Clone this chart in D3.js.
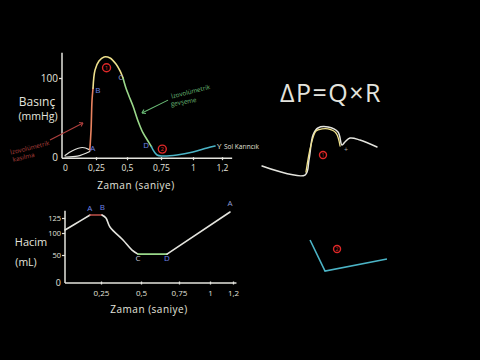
<!DOCTYPE html>
<html><head><meta charset="utf-8">
<script src="https://cdn.jsdelivr.net/npm/d3@7"></script>
<style>
html,body{margin:0;padding:0;background:#000;}
svg{display:block;}
text{font-family:"Open Sans","Noto Sans",sans-serif;}
</style></head>
<body>
<script>
// ---------- DATA ----------
const timeTicks = [0, 0.25, 0.5, 0.75, 1, 1.2];
const timeTickLabels = ["0", "0,25", "0,5", "0,75", "1", "1,2"];
const pressureTicks = [0, 100];
const volumeTicks = [0, 50, 100, 125];

// pressure curve segments (time s, pressure mmHg)
const loopUpperT = [0, 0.06, 0.14, 0.2];
const loopUpperP = [2, 8, 12, 9];
const loopLowerT = [0, 0.1, 0.2];
const loopLowerP = [0, 1, 7];
const contractT = [0.2, 0.21, 0.218, 0.226];
const contractP = [9, 34, 72, 87];
const ejectT = [0.226, 0.242, 0.274, 0.315, 0.363, 0.411, 0.444, 0.468];
const ejectP = [87, 110, 121.5, 126.6, 125.3, 117.7, 109, 100];
const relaxT = [0.468, 0.492, 0.515, 0.544, 0.581, 0.618, 0.654, 0.68];
const relaxP = [100, 87, 77, 64.6, 45.6, 30.4, 20.3, 13];
const fillT = [0.68, 0.695, 0.721, 0.758, 0.875, 1.0, 1.097, 1.152];
const fillP = [13, 8, 2.5, 1.3, 2.5, 6.3, 11.4, 13.9];

// volume curve segments (time s, volume mL)
const volStartT = [0, 0.07, 0.174];
const volStartV = [105, 115, 130];
const volABT = [0.174, 0.256];
const volABV = [130, 130];
const volBCT = [0.256, 0.281, 0.306, 0.3875, 0.444, 0.481];
const volBCV = [130, 125, 110, 84, 61, 52];
const volCDT = [0.481, 0.671];
const volCDV = [52, 52];
const volDAT = [0.671, 1.174];
const volDAV = [52, 135];

// point labels
const pLabels = ["A", "B", "C", "D"];
const pLabelT = [0.225, 0.265, 0.45, 0.64];
const pLabelP = [7, 81, 98, 12];
const vLabels = ["A", "B", "C", "D", "A"];
const vLabelT = [0.172, 0.258, 0.481, 0.671, 1.174];
const vLabelV = [137, 138, 40, 40, 145];

// circled numbers
const circT = [0.335, 0.76];
const circP = [113, 10];
const circTxt = ["1", "2"];

// right-hand sketches (arbitrary sketch units)
const skVentX = [1.7, 37.5, 40.8, 44.2, 48.3, 56.7, 65, 68.3, 70.8, 75, 83.3, 97.5];
const skVentY = [71.25, 65.6, 75, 90.6, 95, 95.6, 92.5, 84.4, 86.25, 88.75, 87.5, 83.1];
const skAortX = [38.3, 42.5, 46.7, 51.7, 56.7, 63.3, 66.7];
const skAortY = [67.5, 84.4, 93.1, 94.4, 94.4, 91.9, 83.75];
const skVolX = [41.7, 54.2, 105.8];
const skVolY = [25, 5.6, 13.1];
const skCircX = [52.5, 64.2];
const skCircY = [78.1, 19.4];

// ---------- LAYOUT ----------
const W = 480, H = 360;
const svg = d3.select("body").append("svg").attr("width", W).attr("height", H)
  .style("background", "#000");

const C = {
  white: "#e4e4de", orange: "#e8825f", yellow: "#eee08c", green: "#9ad88a",
  teal: "#4bb4c6", blue: "#6d84e6", red: "#e02828", dred: "#b0403e", dgreen: "#6cbf78"
};

const xTop = d3.scaleLinear().domain(timeTicks).range([65, 96, 127, 161, 193, 222]);
const yTop = d3.scaleLinear().domain([0, 100]).range([157, 78]);
const xBot = d3.scaleLinear().domain(timeTicks).range([65, 101, 141, 179, 210, 233]);
const yBot = d3.scaleLinear().domain(volumeTicks).range([283, 255, 233, 218]);

function seg(g, xs, ys, ts, vs, color, curve, w) {
  const pts = ts.map((t, i) => [t, vs[i]]);
  g.append("path").datum(pts)
    .attr("d", d3.line().x(d => xs(d[0])).y(d => ys(d[1])).curve(curve || d3.curveCatmullRom))
    .attr("fill", "none").attr("stroke", color).attr("stroke-width", w || 1.6)
    .attr("stroke-linecap", "round").attr("stroke-linejoin", "round");
}

// ---------- TOP CHART ----------
const gT = svg.append("g");
gT.append("line").attr("x1", 62).attr("x2", 62).attr("y1", yTop(132)).attr("y2", yTop(-1.5))
  .attr("stroke", C.white).attr("stroke-width", 1.5);
gT.append("line").attr("x1", 62).attr("x2", xTop(1.27)).attr("y1", yTop(-1.5)).attr("y2", yTop(-1.5))
  .attr("stroke", C.white).attr("stroke-width", 1.5);
const axT = d3.axisBottom(xTop).tickValues(timeTicks).tickFormat((d, i) => timeTickLabels[i]).tickSize(3).tickPadding(5);
const axTg = gT.append("g").attr("transform", `translate(0,${yTop(-1.5) - 1})`).call(axT);
axTg.select(".domain").remove();
axTg.selectAll("line").attr("stroke", C.white).attr("stroke-width", 1.3);
axTg.selectAll("text").attr("fill", C.white).attr("font-size", 8.5);
axTg.selectAll(".tick").filter(d => d === 0).select("line").remove();
const ayT = d3.axisLeft(yTop).tickValues(pressureTicks).tickFormat(d => d).tickSize(3).tickPadding(1);
const ayTg = gT.append("g").attr("transform", "translate(62,0)").call(ayT);
ayTg.select(".domain").remove();
ayTg.selectAll("line").attr("stroke", C.white).attr("stroke-width", 1.3);
ayTg.selectAll("text").attr("fill", C.white).attr("font-size", 10);
ayTg.selectAll(".tick").filter(d => d === 0).select("line").remove();

seg(gT, xTop, yTop, loopUpperT, loopUpperP, C.white, d3.curveCatmullRom, 1.2);
seg(gT, xTop, yTop, loopLowerT, loopLowerP, C.white, d3.curveCatmullRom, 1.2);
seg(gT, xTop, yTop, contractT, contractP, C.orange);
seg(gT, xTop, yTop, ejectT, ejectP, C.yellow);
seg(gT, xTop, yTop, relaxT, relaxP, C.green);
seg(gT, xTop, yTop, fillT, fillP, C.teal);

pLabels.forEach((l, i) => {
  gT.append("text").attr("x", xTop(pLabelT[i])).attr("y", yTop(pLabelP[i]))
    .attr("text-anchor", "middle").attr("font-size", 8)
    .attr("fill", l === "C" ? "#8f9fd6" : C.blue).text(l);
});
circT.forEach((t, i) => {
  gT.append("circle").attr("cx", xTop(t)).attr("cy", yTop(circP[i])).attr("r", 4)
    .attr("fill", "none").attr("stroke", C.red).attr("stroke-width", 1.4);
  gT.append("text").attr("x", xTop(t)).attr("y", yTop(circP[i]) + 2.3)
    .attr("text-anchor", "middle").attr("font-size", 6).attr("fill", C.red).text(circTxt[i]);
});

gT.append("text").attr("x", 37).attr("y", 106).attr("text-anchor", "middle")
  .attr("font-size", 12).attr("fill", C.white).text("Basınç");
gT.append("text").attr("x", 38).attr("y", 120).attr("text-anchor", "middle")
  .attr("font-size", 10.5).attr("fill", C.white).text("(mmHg)");
gT.append("text").attr("x", 136).attr("y", 189).attr("text-anchor", "middle")
  .attr("font-size", 10).attr("fill", C.white).attr("letter-spacing", 0.5).text("Zaman (saniye)");

function arrow(g, t0, p0, t1, p1, color) {
  const x0 = xTop(t0), y0 = yTop(p0), x1 = xTop(t1), y1 = yTop(p1);
  g.append("line").attr("x1", x0).attr("y1", y0).attr("x2", x1).attr("y2", y1)
    .attr("stroke", color).attr("stroke-width", 1.1);
  const a = Math.atan2(y1 - y0, x1 - x0);
  const L = 4;
  [0.6, -0.6].forEach(o => {
    g.append("line").attr("x1", x1).attr("y1", y1)
      .attr("x2", x1 - L * Math.cos(a + o)).attr("y2", y1 - L * Math.sin(a + o))
      .attr("stroke", color).attr("stroke-width", 1.1);
  });
}
function note(g, t, p, txt, color, rot, size) {
  const x = xTop(t), y = yTop(p);
  g.append("text").attr("x", x).attr("y", y).attr("text-anchor", "middle")
    .attr("font-size", size || 6.3).attr("fill", color)
    .attr("transform", `rotate(${rot},${x},${y})`).text(txt);
}
arrow(gT, -0.121, 21.5, 0.145, 43, C.dred);
note(gT, -0.28, 9, "İzovolümetrik", C.dred, -14);
note(gT, -0.33, -3, "kasılma", C.dred, -14);
arrow(gT, 0.805, 72, 0.61, 55.7, C.dgreen);
note(gT, 0.985, 80, "İzovolümetrik", C.dgreen, -14);
note(gT, 0.93, 67, "gevşeme", C.dgreen, -10);
gT.append("text").attr("x", xTop(1.165)).attr("y", yTop(10.5)).attr("font-size", 8)
  .attr("fill", C.white).text("Y");
gT.append("text").attr("x", xTop(1.2) + 2).attr("y", yTop(10.5)).attr("font-size", 6.5)
  .attr("fill", C.white).text("Sol Karıncık");

// ---------- BOTTOM CHART ----------
const gB = svg.append("g");
gB.append("line").attr("x1", 65).attr("x2", 65).attr("y1", yBot(137)).attr("y2", yBot(0))
  .attr("stroke", C.white).attr("stroke-width", 1.5);
gB.append("line").attr("x1", 65).attr("x2", xBot(1.23)).attr("y1", yBot(0)).attr("y2", yBot(0))
  .attr("stroke", C.white).attr("stroke-width", 1.5);
const axB = d3.axisBottom(xBot).tickValues(timeTicks.slice(1))
  .tickFormat((d, i) => timeTickLabels[i + 1]).tickSize(3).tickPadding(6);
const axBg = gB.append("g").attr("transform", `translate(0,${yBot(0) - 1.5})`).call(axB);
axBg.select(".domain").remove();
axBg.selectAll("line").attr("stroke", C.white).attr("stroke-width", 1.3);
axBg.selectAll("text").attr("fill", C.white).attr("font-size", 8);
const ayB = d3.axisLeft(yBot).tickValues(volumeTicks).tickFormat(d => d).tickSize(3).tickPadding(1);
const ayBg = gB.append("g").attr("transform", "translate(65,0)").call(ayB);
ayBg.select(".domain").remove();
ayBg.selectAll("line").attr("stroke", C.white).attr("stroke-width", 1.2);
ayBg.selectAll("text").attr("fill", C.white).attr("font-size", 7.5);
ayBg.selectAll(".tick").filter(d => d === 0).select("line").remove();
ayBg.selectAll(".tick").filter(d => d === 0).select("text").attr("font-size", 9);

seg(gB, xBot, yBot, volStartT, volStartV, C.white);
seg(gB, xBot, yBot, volABT, volABV, "#c0504a");
seg(gB, xBot, yBot, volBCT, volBCV, C.white);
seg(gB, xBot, yBot, volCDT, volCDV, C.green);
seg(gB, xBot, yBot, volDAT, volDAV, C.white, d3.curveLinear);

vLabels.forEach((l, i) => {
  gB.append("text").attr("x", xBot(vLabelT[i])).attr("y", yBot(vLabelV[i]))
    .attr("text-anchor", "middle").attr("font-size", 8)
    .attr("fill", i === 2 ? "#c8c8d8" : (i === 4 ? "#8f9fd6" : C.blue)).text(l);
});

gB.append("text").attr("x", 31).attr("y", 246).attr("text-anchor", "middle")
  .attr("font-size", 11).attr("fill", C.white).text("Hacim");
gB.append("text").attr("x", 26).attr("y", 266).attr("text-anchor", "middle")
  .attr("font-size", 10.5).attr("fill", C.white).text("(mL)");
gB.append("text").attr("x", 149).attr("y", 313).attr("text-anchor", "middle")
  .attr("font-size", 10).attr("fill", C.white).attr("letter-spacing", 0.5).text("Zaman (saniye)");

// ---------- RIGHT SKETCHES ----------
const gR = svg.append("g");
gR.append("text").attr("x", 331).attr("y", 102).attr("text-anchor", "middle")
  .attr("font-size", 25).attr("fill", C.white).attr("letter-spacing", 1.5).text("ΔP=Q×R");
const sx = d3.scaleLinear().domain([0, 100]).range([260, 380]);
const sy = d3.scaleLinear().domain([0, 100]).range([280, 120]);
function skLine(xs, ys, color, w) {
  gR.append("path").datum(xs.map((x, i) => [x, ys[i]]))
    .attr("d", d3.line().x(d => sx(d[0])).y(d => sy(d[1])).curve(d3.curveCatmullRom))
    .attr("fill", "none").attr("stroke", color).attr("stroke-width", w || 1.5)
    .attr("stroke-linecap", "round");
}
skLine(skVentX, skVentY, C.white);
skLine(skAortX, skAortY, C.yellow, 1.3);
gR.append("path").datum(skVolX.map((x, i) => [x, skVolY[i]]))
  .attr("d", d3.line().x(d => sx(d[0])).y(d => sy(d[1])))
  .attr("fill", "none").attr("stroke", C.teal).attr("stroke-width", 1.6);
skCircX.forEach((x, i) => {
  gR.append("circle").attr("cx", sx(x)).attr("cy", sy(skCircY[i])).attr("r", 3.5)
    .attr("fill", "none").attr("stroke", C.red).attr("stroke-width", 1.4);
  gR.append("text").attr("x", sx(x)).attr("y", sy(skCircY[i]) + 2)
    .attr("text-anchor", "middle").attr("font-size", 5).attr("fill", C.red).text(i === 0 ? "1" : "2");
});
gR.append("text").attr("x", sx(71.7)).attr("y", sy(81.25) + 2).attr("text-anchor", "middle")
  .attr("font-size", 7).attr("fill", "#aaaaaa").text("+");
</script>
</body></html>
